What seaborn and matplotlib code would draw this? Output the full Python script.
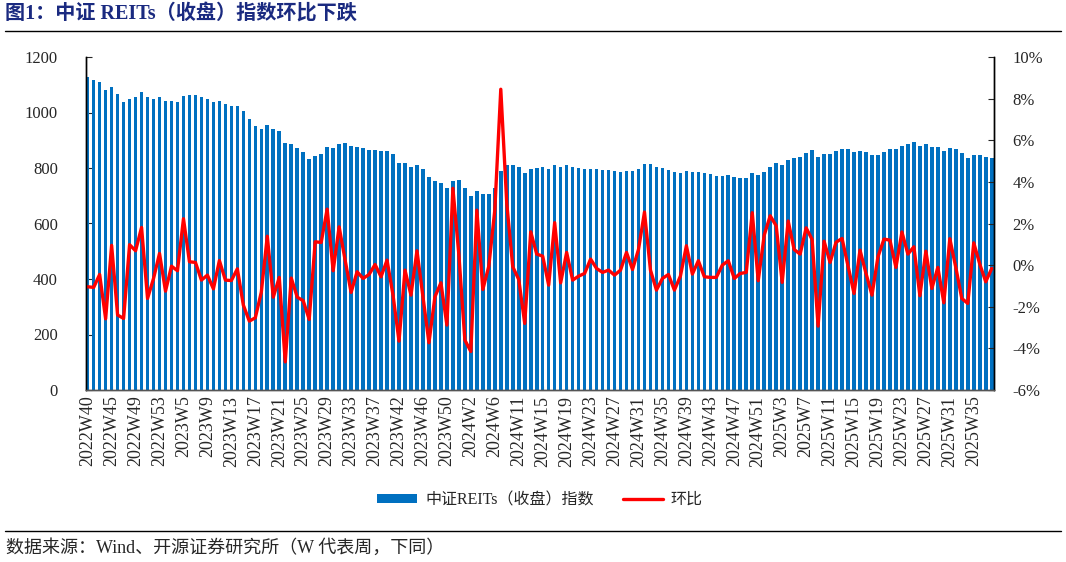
import numpy as np
import pandas as pd
import matplotlib
matplotlib.use("Agg")
import matplotlib.pyplot as plt
from matplotlib.patches import Patch
from matplotlib.lines import Line2D
from matplotlib.ticker import FuncFormatter, MultipleLocator
import seaborn as sns

# weekly categories (holiday weeks are missing in the source data)
weeks_2022 = [40, 41, 42, 43] + list(range(45, 54))
weeks_2023 = [1, 2, 3] + list(range(5, 40)) + list(range(41, 53))
weeks_2024 = list(range(1, 7)) + list(range(8, 53))
weeks_2025 = list(range(1, 39))
weeks = ([f"2022W{w}" for w in weeks_2022] + [f"2023W{w}" for w in weeks_2023]
         + [f"2024W{w}" for w in weeks_2024] + [f"2025W{w}" for w in weeks_2025])

# 中证REITs（收盘）指数
index_close = [
    1129, 1117, 1110, 1081, 1092, 1066, 1038, 1049, 1056, 1074, 1056, 1049,
    1056, 1041, 1041, 1038, 1061, 1063, 1063, 1056, 1050, 1038, 1041, 1032,
    1025, 1024, 1004, 977, 952, 941, 954, 940, 933, 891, 885, 873,
    856, 834, 843, 851, 875, 873, 887, 891, 879, 875, 871, 866, 866, 862, 863,
    849, 819, 817, 805, 810, 796, 766, 754, 747, 727, 753, 757, 729, 699, 717,
    708, 708, 727, 788, 811, 811, 805, 783, 795, 800, 802, 795, 811, 805, 810,
    802, 799, 795, 798, 796, 794, 793, 788, 787, 790, 790, 796, 816, 813, 805,
    799, 794, 786, 781, 788, 784, 786, 781, 777, 772, 772, 774, 769, 765, 763,
    782, 776, 787, 805, 819, 812, 830, 836, 841, 855, 866, 841, 849, 849, 861,
    869, 868, 856, 861, 857, 846, 848, 859, 868, 868, 880, 886, 893, 880, 886,
    875, 875, 860, 871, 867, 854, 837, 847, 846, 840, 837,
]

# 环比 (%)
wow_pct = [
    -1.04, -1.07, -0.45, -2.58, 0.95, -2.40, -2.56, 0.98, 0.69, 1.81, -1.60, -0.64,
    0.56, -1.25, -0.05, -0.27, 2.23, 0.16, 0.13, -0.72, -0.48, -1.14, 0.22, -0.72,
    -0.74, -0.18, -1.92, -2.69, -2.53, -1.30, 1.39, -1.54, -0.59, -4.65, -0.62, -1.54,
    -1.71, -2.61, 1.12, 1.09, 2.69, -0.27, 1.84, 0.24, -1.31, -0.32, -0.64, -0.45,
    0.03, -0.56, 0.24, -1.44, -3.65, -0.24, -1.44, 0.69, -1.52, -3.73, -1.52, -0.85,
    -2.88, 3.69, 0.50, -3.60, -4.15, 2.64,
    -1.17, -0.05, 2.64, 8.45, 2.96, -0.08, -0.69, -2.80, 1.60, 0.53, 0.43, -0.96,
    2.04, -0.85, 0.61, -0.72, -0.53, -0.40, 0.29, -0.16, -0.35, -0.24, -0.48, -0.24,
    0.61, -0.21, 0.75, 2.55, -0.24, -1.20,
    -0.64, -0.45, -1.20, -0.53, 0.93, -0.43, 0.21, -0.56, -0.59, -0.59, 0.00, 0.21,
    -0.64, -0.40, -0.35, 2.52, -0.75, 1.44, 2.37, 1.89, -0.83, 2.12, 0.75, 0.53,
    1.79, 1.23, -2.93, 1.15, 0.13, 1.10,
    1.28, -0.03, -1.36, 0.72, -0.40, -1.44, 0.40, 1.25, 1.20, -0.11, 1.59, 0.53,
    0.88, -1.47, 0.67, -1.12, -0.11, -1.81, 1.27, -0.11, -1.60, -1.84, 1.07, 0.05,
    -0.80, -0.16,
]

BLUE = "#0070C0"
RED = "#FF0000"
NAVY = "#1A2A80"

sns.set_style("ticks")
plt.rcParams["font.family"] = ["Liberation Serif", "Noto Sans CJK SC", "DejaVu Sans"]
plt.rcParams["axes.unicode_minus"] = False

df = pd.DataFrame({"week": weeks, "close": index_close, "pct": wow_pct})
pos = np.arange(len(df))

W, H = 1066, 562
fig = plt.figure(figsize=(W / 100, H / 100), dpi=100)
ax = fig.add_axes([85.7 / W, 1 - 390 / H, (994.3 - 85.7) / W, (390 - 57) / H])

sns.barplot(data=df, x="week", y="close", color=BLUE, saturation=1,
            width=0.6, edgecolor="none", ax=ax)
ax.set_xlim(-0.33, len(df) - 1 + 0.43)
ax.set_ylim(0, 1200)
ax.yaxis.set_major_locator(MultipleLocator(200))
ax.set_xlabel("")
ax.set_ylabel("")

ax.set_xticks(pos[::4])
ax.set_xticklabels(df["week"][::4], rotation=90, fontsize=13)
ax.set_xticks(pos, minor=True)
ax.tick_params(axis="x", which="both", direction="in", length=3, pad=4,
               color="#555555")
ax.tick_params(axis="y", direction="in", length=4, labelsize=12, pad=20)

ax2 = ax.twinx()
sns.lineplot(x=pos, y=df["pct"], color=RED, linewidth=2.4, ax=ax2)
ax2.set_ylim(-6, 10)
ax2.yaxis.set_major_locator(MultipleLocator(2))
ax2.yaxis.set_major_formatter(FuncFormatter(lambda v, p: f"{v:.0f}%"))
ax2.set_ylabel("")
ax2.tick_params(axis="y", direction="in", length=4, labelsize=12, pad=13)

for a in (ax, ax2):
    a.spines["top"].set_visible(False)
    a.spines["left"].set_color("black")
    a.spines["right"].set_color("black")
    a.spines["bottom"].set_color("#555555")
    for s in ("left", "right", "bottom"):
        a.spines[s].set_linewidth(1.0)
    a.grid(False)

# title and rules
fig.text(5 / W, 1 - 15 / H, "图1：中证 REITs（收盘）指数环比下跌", fontsize=14.5,
         fontweight="bold", color=NAVY, va="center", ha="left")
fig.add_artist(Line2D([5 / W, 1061 / W], [1 - 31 / H, 1 - 31 / H],
                      color="black", lw=1.0))
fig.add_artist(Line2D([5 / W, 1061 / W], [1 - 531 / H, 1 - 531 / H],
                      color="black", lw=1.0))
fig.text(6 / W, 1 - 548 / H, "数据来源：Wind、开源证券研究所（W 代表周，下同）",
         fontsize=13, va="center", ha="left")

handles = [Patch(facecolor=BLUE, edgecolor="none"),
           Line2D([], [], color=RED, lw=2.4)]
fig.legend(handles, ["中证REITs（收盘）指数", "环比"], loc="center",
           bbox_to_anchor=(540 / W, 1 - 500 / H), ncol=2, frameon=False,
           fontsize=11.5, handlelength=2.5, handleheight=0.55,
           handletextpad=0.5, columnspacing=1.8)

fig.savefig("out.png", dpi=100)
